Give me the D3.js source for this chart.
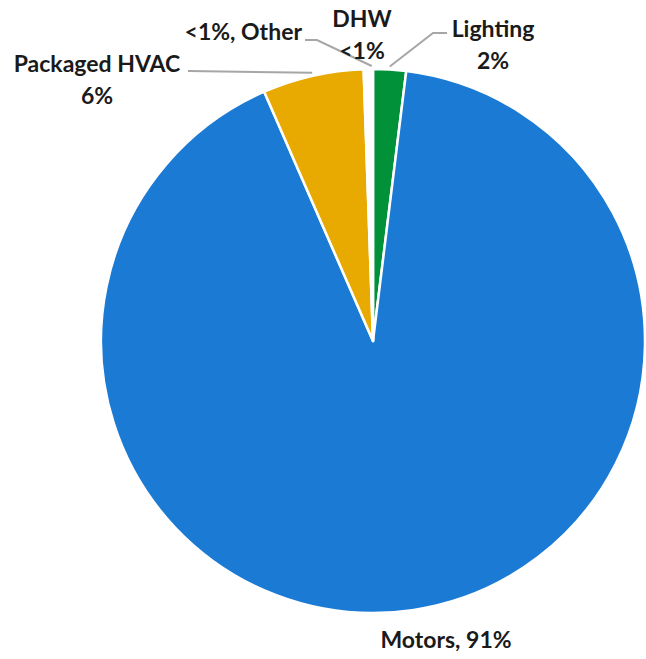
<!DOCTYPE html>
<html>
<head>
<meta charset="utf-8">
<script src="https://cdn.jsdelivr.net/npm/d3@7"></script>
<style>
  body { margin: 0; background: #fff; }
</style>
</head>
<body>
<div id="chart"></div>
<script>
const categories = ['Lighting', 'Motors', 'Packaged HVAC', 'DHW', 'Other'];
const shares = [1.95, 91.5, 6.0, 0.4, 0.15];
const sliceColors = ['#009139', '#1A7AD4', '#E8A900', '#FFFFFF', '#9AA8A4'];
const labelLines = [['Lighting', '2%'], ['Motors, 91%'], ['Packaged HVAC', '6%'], ['DHW', '<1%'], ['<1%, Other']];

const WIDTH = 646;
const HEIGHT = 659;
const CX = 373;
const CY = 341;
const RADIUS = 272;
const FONT = 'Lato, "Open Sans", sans-serif';
const FONT_SIZE = 23;
const LINE_GAP = 32;

// where each label sits (relative to pie centre), plus leader elbow if any
const labelLayout = [
  { x: 120, y: -304, anchor: 'middle', elbow: [60, -308], lineEnd: [74, -308] },
  { x: 73, y: 307, anchor: 'middle' },
  { x: -276, y: -269, anchor: 'middle', elbow: null, lineEnd: [-185, -270] },
  { x: -11, y: -314, anchor: 'middle' },
  { x: -71, y: -301, anchor: 'end', elbow: [-56, -301], lineEnd: [-68, -301] },
];

const svg = d3.select('#chart')
  .append('svg')
  .attr('width', WIDTH)
  .attr('height', HEIGHT);

const g = svg.append('g').attr('transform', `translate(${CX},${CY})`);

const pie = d3.pie().sort(null).value((d) => d);
const arcs = pie(shares);
const arc = d3.arc().innerRadius(0).outerRadius(RADIUS);

g.selectAll('path.slice')
  .data(arcs)
  .join('path')
  .attr('class', 'slice')
  .attr('d', arc)
  .attr('fill', (d, i) => sliceColors[i])
  .attr('stroke', '#fff')
  .attr('stroke-width', 2.5)
  .attr('stroke-linejoin', 'round');

// leader lines
arcs.forEach((a, i) => {
  const lay = labelLayout[i];
  if (!lay.lineEnd) return;
  const mid = (a.startAngle + a.endAngle) / 2;
  const r = RADIUS + 3;
  const pts = [[Math.sin(mid) * r, -Math.cos(mid) * r]];
  if (lay.elbow) pts.push(lay.elbow);
  pts.push(lay.lineEnd);
  g.append('path')
    .attr('d', d3.line()(pts))
    .attr('fill', 'none')
    .attr('stroke', '#A6A6A6')
    .attr('stroke-width', 2);
});

// labels
labelLines.forEach((lines, i) => {
  const lay = labelLayout[i];
  const t = g.append('text')
    .attr('x', lay.x)
    .attr('y', lay.y)
    .attr('text-anchor', lay.anchor)
    .attr('font-family', FONT)
    .attr('font-size', FONT_SIZE)
    .attr('font-weight', 'bold')
    .attr('fill', '#1a1a1a');
  lines.forEach((line, j) => {
    t.append('tspan')
      .attr('x', lay.x)
      .attr('dy', j === 0 ? 0 : LINE_GAP)
      .text(line);
  });
});
</script>
</body>
</html>
